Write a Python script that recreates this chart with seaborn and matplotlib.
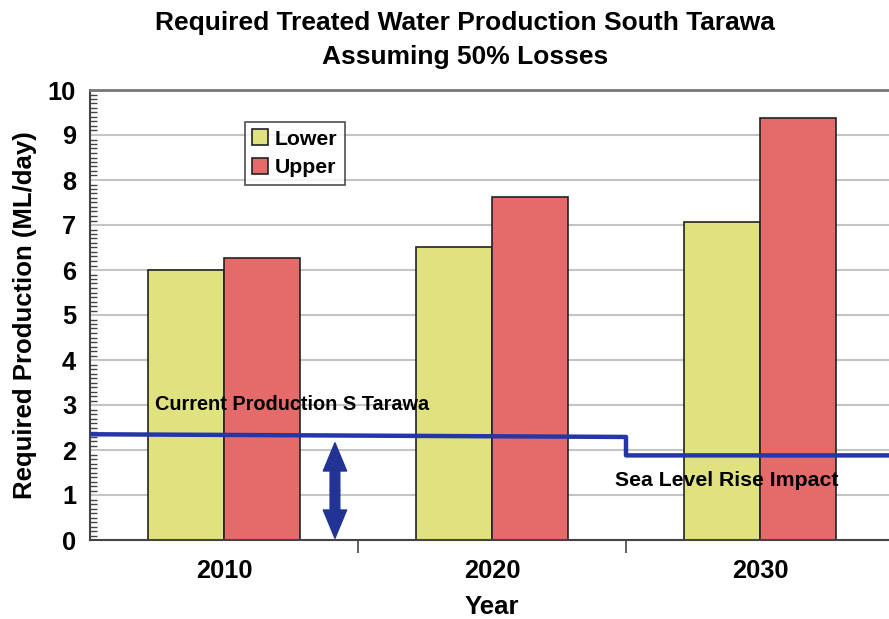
import matplotlib
matplotlib.use("Agg")
import matplotlib.pyplot as plt
from matplotlib.patches import FancyArrowPatch
from matplotlib.ticker import MultipleLocator, FixedLocator
import pandas as pd
import seaborn as sns

# Required treated water production (ML/day), 50% losses assumed
years = ["2010", "2020", "2030"]
lower = [6.00, 6.51, 7.07]
upper = [6.27, 7.62, 9.37]
series = ["Lower", "Upper"]
colors = ["#dfe27e", "#e56a6a"]

# Current production, before and after the sea level rise impact
production_x = [-0.5, 1.5, 1.5, 2.5]
production_y = [2.35, 2.29, 1.88, 1.88]

df = pd.DataFrame({
    "Year": years * 2,
    "Production": lower + upper,
    "Series": ["Lower"] * len(years) + ["Upper"] * len(years),
})

sns.set_theme(style="white")
plt.rcParams["font.family"] = ["Liberation Sans", "DejaVu Sans"]
plt.rcParams["font.weight"] = "bold"
plt.rcParams["text.color"] = "black"
plt.rcParams["axes.labelcolor"] = "black"
plt.rcParams["xtick.color"] = "black"
plt.rcParams["ytick.color"] = "black"

W, H = 889, 619
fig = plt.figure(figsize=(W / 100, H / 100), dpi=100)
ax = fig.add_axes([90 / W, (H - 540) / H, (894 - 90) / W, 450 / H])

sns.barplot(data=df, x="Year", y="Production", hue="Series",
            hue_order=series, palette=colors, width=0.567, gap=0,
            edgecolor="#222222", linewidth=1.2, saturation=1, ax=ax,
            zorder=2)

ax.plot(production_x, production_y, color="#2436a8", lw=3.2, zorder=3)

# double-headed arrow marking the production gap: two halves from the middle
style = "simple,head_length=1.45,head_width=1.2,tail_width=0.5"
mid = (0.414, 1.1)
for end in [(0.414, 0.04), (0.414, 2.16)]:
    ax.add_patch(FancyArrowPatch(mid, end, arrowstyle=style, mutation_scale=14,
                                 color="#223396", zorder=4,
                                 shrinkA=0, shrinkB=0))

ax.text(-0.257, 3.0, "Current Production S Tarawa", fontsize=14.3,
        fontweight="bold", va="center", ha="left", zorder=5)
ax.text(1.46, 1.33, "Sea Level Rise Impact", fontsize=15.3,
        fontweight="bold", va="center", ha="left", zorder=5)

ax.set_xlim(-0.5, 2.5)
ax.set_ylim(0, 10)

ax.yaxis.set_major_locator(MultipleLocator(1))
ax.yaxis.set_minor_locator(MultipleLocator(0.1))
ax.xaxis.set_minor_locator(FixedLocator([0.5, 1.5, 2.5]))
ax.tick_params(axis="y", which="major", direction="inout", length=14,
               width=1.2, color="#444444", labelsize=18.3, pad=3)
ax.tick_params(axis="y", which="minor", direction="in", length=5,
               width=1, color="#444444", left=True)
ax.tick_params(axis="x", which="major", length=0, labelsize=18.3, pad=14)
ax.tick_params(axis="x", which="minor", direction="out", length=9,
               width=1.2, color="#444444", bottom=True)

ax.grid(axis="y", color="#c4c4c4", lw=1.5, zorder=0)
ax.set_axisbelow(True)
for side in ["left", "bottom"]:
    ax.spines[side].set_color("#444444")
    ax.spines[side].set_linewidth(1.5)
ax.spines["top"].set_color("#777777")
ax.spines["top"].set_linewidth(2)
ax.spines["right"].set_visible(False)

ax.set_xlabel("Year", fontsize=18.5, fontweight="bold", labelpad=8)
ax.set_ylabel("Required Production (ML/day)", fontsize=18.5,
              fontweight="bold", labelpad=8)

leg = ax.legend(loc="upper left", bbox_to_anchor=((245 - 90) / 804, (540 - 122) / 450),
                fontsize=15.3, frameon=True, fancybox=False, edgecolor="#222222",
                handlelength=0.75, handleheight=0.75, handletextpad=0.3,
                borderpad=0.35, labelspacing=0.45, borderaxespad=0)
leg.get_frame().set_linewidth(1.2)
for t in leg.get_texts():
    t.set_fontweight("bold")

fig.text(465 / W, 1 - 23 / H, "Required Treated Water Production South Tarawa",
         ha="center", va="center", fontsize=19, fontweight="bold")
fig.text(465 / W, 1 - 57 / H, "Assuming 50% Losses",
         ha="center", va="center", fontsize=19, fontweight="bold")

fig.savefig("out.png", dpi=100)
